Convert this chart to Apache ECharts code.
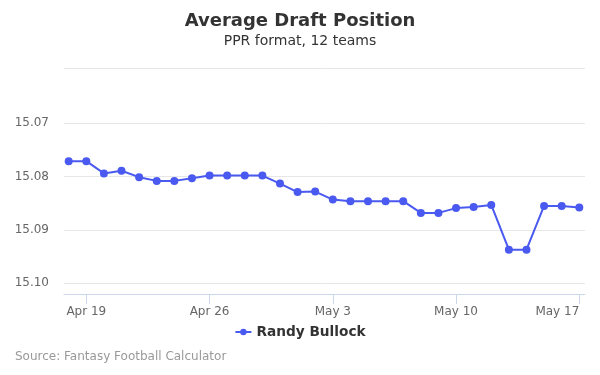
<!DOCTYPE html>
<html><head><meta charset="utf-8">
<script src="https://cdn.jsdelivr.net/npm/echarts@6/dist/echarts.min.js"></script>
<style>html,body{margin:0;padding:0;background:#fff}#c{width:600px;height:375px}</style>
</head><body><div id="c"></div>
<script>
const dates = ['2019-04-18','2019-04-19','2019-04-20','2019-04-21','2019-04-22','2019-04-23','2019-04-24','2019-04-25','2019-04-26','2019-04-27','2019-04-28','2019-04-29','2019-04-30','2019-05-01','2019-05-02','2019-05-03','2019-05-04','2019-05-05','2019-05-06','2019-05-07','2019-05-08','2019-05-09','2019-05-10','2019-05-11','2019-05-12','2019-05-13','2019-05-14','2019-05-15','2019-05-16','2019-05-17'];
const adp = [15.0771,15.0771,15.0794,15.0789,15.0801,15.0808,15.0808,15.0803,15.0798,15.0798,15.0798,15.0798,15.0813,15.0829,15.0828,15.0843,15.0846,15.0846,15.0846,15.0846,15.0868,15.0868,15.0859,15.0857,15.0853,15.0937,15.0937,15.0855,15.0855,15.0858];
const xTickDates = ['2019-04-19','2019-04-26','2019-05-03','2019-05-10','2019-05-17'];
const yTickValues = [15.07, 15.08, 15.09, 15.10];
const yMin = 15.0597, yMax = 15.102;
const seriesName = 'Randy Bullock';
const months = ['Jan','Feb','Mar','Apr','May','Jun','Jul','Aug','Sep','Oct','Nov','Dec'];

const DAY = 86400000;
const t = s => { const p = s.split('-').map(Number); return Date.UTC(p[0], p[1]-1, p[2]); };
const base = t(xTickDates[0]);
const dayNum = s => Math.round((t(s) - base) / DAY);
const fmt = v => { const d = new Date(base + Math.round(v) * DAY); return months[d.getUTCMonth()] + ' ' + d.getUTCDate(); };
const xTicks = xTickDates.map(dayNum);

const chart = echarts.init(document.getElementById('c'), null, {renderer: 'canvas'});
chart.setOption({
  animation: false,
  backgroundColor: '#fff',
  textStyle: {fontFamily: 'DejaVu Sans'},
  title: [
    {text: 'Average Draft Position', left: 'center', top: 7,
     textStyle: {fontSize: 18, fontWeight: 'bold', color: '#333', fontFamily: 'DejaVu Sans'}},
    {text: 'PPR format, 12 teams', left: 'center', top: 29,
     textStyle: {fontSize: 14, fontWeight: 'normal', color: '#333', fontFamily: 'DejaVu Sans'}},
    {text: 'Source: Fantasy Football Calculator', left: 10, top: 346,
     textStyle: {fontSize: 12, fontWeight: 'normal', color: '#999', fontFamily: 'DejaVu Sans'}}
  ],
  legend: {
    bottom: 31, left: 'center', itemWidth: 16, itemHeight: 8, itemGap: 20,
    textStyle: {fontSize: 13.7, fontWeight: 'bold', color: '#333', fontFamily: 'DejaVu Sans'},
    data: [seriesName]
  },
  grid: {left: 64, right: 15, top: 68.3, bottom: 81, containLabel: false},
  xAxis: {
    type: 'value',
    min: xTicks[0] - 1.2666,
    max: xTicks[xTicks.length-1] + 0.324,
    axisLine: {show: true, lineStyle: {color: '#ccd6eb', width: 1}},
    axisTick: {show: true, customValues: xTicks, length: 10, lineStyle: {color: '#ccd6eb'}},
    axisLabel: {customValues: xTicks, formatter: fmt, color: '#666', fontSize: 12, margin: 12, fontFamily: 'DejaVu Sans', alignMaxLabel: 'right'},
    splitLine: {show: false}
  },
  yAxis: {
    type: 'value', inverse: true,
    min: yMin, max: yMax,
    axisLine: {show: false},
    axisTick: {show: false, customValues: [yMin].concat(yTickValues, [yMax])},
    axisLabel: {customValues: yTickValues, formatter: v => v.toFixed(2), color: '#666', fontSize: 12, margin: 15, fontFamily: 'DejaVu Sans'},
    splitLine: {show: true, lineStyle: {color: '#e6e6e6', width: 1}}
  },
  series: [{
    name: seriesName, type: 'line',
    data: dates.map((d, i) => [dayNum(d), adp[i]]),
    symbol: 'circle', symbolSize: 8,
    itemStyle: {color: '#4a5af0'},
    lineStyle: {color: '#4a5af0', width: 2}
  }]
});
</script>
</body></html>
